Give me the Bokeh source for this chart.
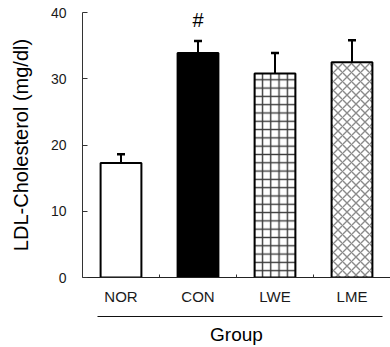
from bokeh.plotting import figure
from bokeh.models import (ColumnDataSource, Whisker, TeeHead, Label, LinearAxis,
                          FixedTicker, Range1d)
from bokeh.embed import file_html
from bokeh.resources import INLINE

# ---- data ----
groups = ["NOR", "CON", "LWE", "LME"]
ldl_mean = [17.3, 33.9, 30.8, 32.5]
ldl_err = [1.3, 1.8, 3.1, 3.3]
fill_colors = ["white", "black", "white", "white"]
hatch_patterns = [" ", " ", "+", "x"]
hatch_colors = ["black", "black", "#3a3a3a", "#8a8a8a"]
hatch_scales = [8.0, 8.0, 8.3, 9.0]
y_ticks = [0, 10, 20, 30, 40]
sig_group = "CON"
sig_mark = "#"
sig_y = 38.9
y_title = "LDL-Cholesterol (mg/dl)"
x_title = "Group"

FONT = "Liberation Sans"
TXT = "#1a1a1a"

# category slots: group i occupies [i, i+1], centred at i + 0.5
centers = [i + 0.5 for i in range(len(groups))]
bounds = [float(i) for i in range(1, len(groups))]

src = ColumnDataSource(dict(
    x=centers, group=groups, mean=ldl_mean,
    upper=[m + e for m, e in zip(ldl_mean, ldl_err)],
    fill=fill_colors, hatch=hatch_patterns, hcol=hatch_colors, hscale=hatch_scales,
))

p = figure(x_range=Range1d(0, len(groups)), y_range=Range1d(0, 40),
           width=390, height=347, output_backend="svg", toolbar_location=None,
           x_axis_location=None, min_border_left=82, min_border_right=0,
           min_border_top=12, min_border_bottom=0)
p.grid.visible = False
p.outline_line_color = None
p.background_fill_color = "white"
p.border_fill_color = "white"

# bars
p.vbar(x="x", top="mean", bottom=0, width=0.53, source=src,
       fill_color="fill", line_color="black", line_width=2,
       hatch_pattern="hatch", hatch_color="hcol", hatch_scale="hscale",
       hatch_weight=1.4)

# error bars (upper only)
wh = Whisker(base="x", upper="upper", lower="mean", source=src, dimension="height",
             line_color="black", line_width=2,
             upper_head=TeeHead(size=8, line_width=2.5, line_color="black"),
             lower_head=None)
p.add_layout(wh)

# y axis
ya = p.yaxis[0]
ya.ticker = FixedTicker(ticks=y_ticks)
ya.major_tick_in = 5
ya.major_tick_out = 0
ya.minor_tick_line_color = None
ya.major_tick_line_color = "#333333"
ya.axis_line_color = "#333333"
ya.major_label_standoff = 16
ya.major_label_text_font = FONT
ya.major_label_text_font_size = "14px"
ya.major_label_text_color = TXT

# y title carried by an extra (invisible) left axis
ta = LinearAxis(ticker=FixedTicker(ticks=[]), bounds=(4.5, 40))
ta.axis_line_color = None
ta.major_tick_line_color = None
ta.minor_tick_line_color = None
ta.major_label_standoff = 0
ta.axis_label = y_title
ta.axis_label_standoff = 16
ta.axis_label_text_font = FONT
ta.axis_label_text_font_size = "20px"
ta.axis_label_text_font_style = "normal"
ta.axis_label_text_color = "black"
p.add_layout(ta, "left")

# x axis with category labels and boundary ticks
xa = LinearAxis(ticker=FixedTicker(ticks=centers, minor_ticks=bounds),
                major_label_overrides={c: g for c, g in zip(centers, groups)})
xa.major_tick_in = 0
xa.major_tick_out = 0
xa.minor_tick_in = 3
xa.minor_tick_out = 0
xa.minor_tick_line_color = "#333333"
xa.axis_line_color = "#222222"
xa.major_label_standoff = 10
xa.major_label_text_font = FONT
xa.major_label_text_font_size = "15px"
xa.major_label_text_color = TXT
xa.axis_label = " "
xa.axis_label_text_font_size = "6px"
xa.axis_label_standoff = 0
p.add_layout(xa, "below")

# second axis: separator line and "Group"
ga = LinearAxis(ticker=FixedTicker(ticks=[]), bounds=(0.195, 3.9))
ga.major_tick_in = 0
ga.major_tick_out = 0
ga.minor_tick_line_color = None
ga.major_label_standoff = 0
ga.axis_line_color = "#111111"
ga.axis_line_width = 1.2
ga.axis_label = x_title
ga.axis_label_standoff = 7
ga.axis_label_text_font = FONT
ga.axis_label_text_font_size = "19px"
ga.axis_label_text_font_style = "normal"
ga.axis_label_text_color = "black"
p.add_layout(ga, "below")

# significance mark
p.add_layout(Label(x=centers[groups.index(sig_group)], y=sig_y, text=sig_mark,
                   text_align="center", text_baseline="middle",
                   text_font=FONT, text_font_size="20px", text_color="black"))

open("out.html", "w").write(file_html(p, INLINE))
